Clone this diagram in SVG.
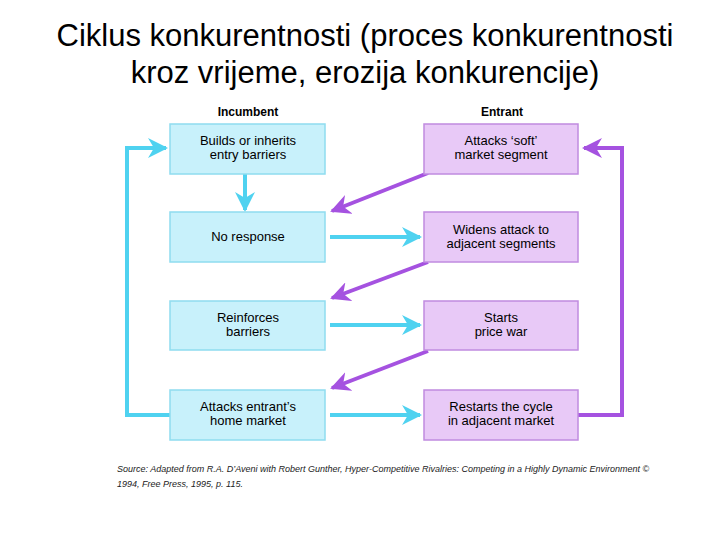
<svg xmlns="http://www.w3.org/2000/svg" width="720" height="540" viewBox="0 0 720 540">
<defs>
<style>
.t{font-family:"Liberation Sans",Arial,sans-serif;fill:#000}
.title{font-size:31px}
.hd{font-size:12px;font-weight:bold}
.bx{font-size:13px;text-anchor:middle}
.src{font-size:9px;font-style:italic;fill:#222}
.inc{fill:#c8f1fb;stroke:#8fdcef;stroke-width:1.5}
.ent{fill:#e8c9f7;stroke:#c08be0;stroke-width:1.5}
.cy{stroke:#4fd2f0;stroke-width:4;fill:none}
.pu{stroke:#a552e0;stroke-width:4;fill:none}
</style>
<marker id="ac" viewBox="0 0 10 10" refX="9" refY="5" markerWidth="5" markerHeight="5" orient="auto" markerUnits="strokeWidth"><path d="M0,0L10,5L0,10L3,5z" fill="#4fd2f0"/></marker>
<marker id="ap" viewBox="0 0 10 10" refX="9" refY="5" markerWidth="5" markerHeight="5" orient="auto" markerUnits="strokeWidth"><path d="M0,0L10,5L0,10L3,5z" fill="#a552e0"/></marker>
</defs>
<text class="t title" x="365" y="46" text-anchor="middle">Ciklus konkurentnosti (proces konkurentnosti</text>
<text class="t title" x="365" y="83" text-anchor="middle">kroz vrijeme, erozija konkurencije)</text>
<text class="t hd" x="248" y="116" text-anchor="middle">Incumbent</text>
<text class="t hd" x="502" y="116" text-anchor="middle">Entrant</text>
<g id="connectors">
<path class="cy" d="M170,415H127V148H166" marker-end="url(#ac)"/>
<path class="pu" d="M578,415H622V148H584" marker-end="url(#ap)"/>
<path class="cy" d="M245,174V210" marker-end="url(#ac)"/>
<path class="cy" d="M330,237H420" marker-end="url(#ac)"/>
<path class="cy" d="M330,325H420" marker-end="url(#ac)"/>
<path class="cy" d="M330,415H420" marker-end="url(#ac)"/>
<path class="pu" d="M428,173L332,211" marker-end="url(#ap)"/>
<path class="pu" d="M428,262L332,298" marker-end="url(#ap)"/>
<path class="pu" d="M428,351L332,388" marker-end="url(#ap)"/>
</g>
<g id="i1"><rect class="inc" x="170" y="124" width="155" height="50"/><text class="t bx" x="248" y="145">Builds or inherits</text><text class="t bx" x="248" y="159">entry barriers</text></g>
<g id="i2"><rect class="inc" x="170" y="212" width="155" height="50"/><text class="t bx" x="248" y="241">No response</text></g>
<g id="i3"><rect class="inc" x="170" y="301" width="155" height="49"/><text class="t bx" x="248" y="322">Reinforces</text><text class="t bx" x="248" y="336">barriers</text></g>
<g id="i4"><rect class="inc" x="170" y="390" width="155" height="50"/><text class="t bx" x="248" y="411">Attacks entrant’s</text><text class="t bx" x="248" y="425">home market</text></g>
<g id="e1"><rect class="ent" x="424" y="124" width="154" height="50"/><text class="t bx" x="501" y="145">Attacks ‘soft’</text><text class="t bx" x="501" y="159">market segment</text></g>
<g id="e2"><rect class="ent" x="424" y="212" width="154" height="50"/><text class="t bx" x="501" y="234">Widens attack to</text><text class="t bx" x="501" y="248">adjacent segments</text></g>
<g id="e3"><rect class="ent" x="424" y="301" width="154" height="49"/><text class="t bx" x="501" y="322">Starts</text><text class="t bx" x="501" y="336">price war</text></g>
<g id="e4"><rect class="ent" x="424" y="390" width="154" height="50"/><text class="t bx" x="501" y="411">Restarts the cycle</text><text class="t bx" x="501" y="425">in adjacent market</text></g>
<text class="t src" x="117" y="472">Source: Adapted from R.A. D’Aveni with Robert Gunther, Hyper-Competitive Rivalries: Competing in a Highly Dynamic Environment ©</text>
<text class="t src" x="117" y="487" font-style="normal">1994, Free Press, 1995, p. 115.</text>
</svg>
